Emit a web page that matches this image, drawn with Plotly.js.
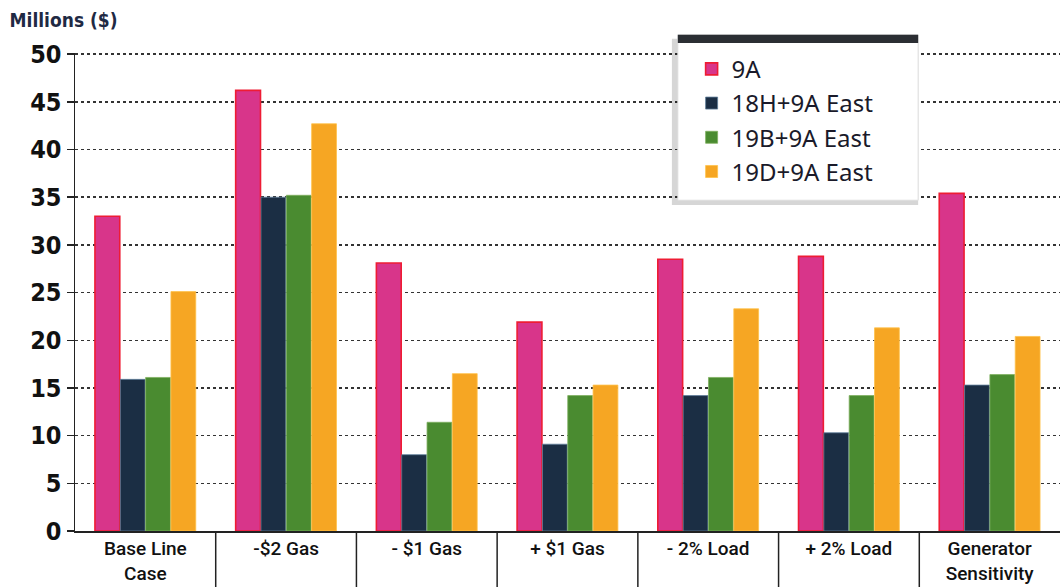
<!DOCTYPE html>
<html>
<head>
<meta charset="utf-8">
<script src="https://cdn.plot.ly/plotly-3.0.1.min.js"></script>
<style>html,body{margin:0;padding:0;background:#fff;}#chart{width:1060px;height:587px;}</style>
</head>
<body>
<div id="chart"></div>
<script>
const categories = ["Base Line<br>Case", "-$2 Gas", "- $1 Gas", "+ $1 Gas", "- 2% Load", "+ 2% Load", "Generator<br>Sensitivity"];
const seriesNames = ["9A", "18H+9A East", "19B+9A East", "19D+9A East"];
const s9A      = [33.0, 46.2, 28.1, 21.9, 28.5, 28.8, 35.4];
const s18H     = [15.9, 35.0, 8.0, 9.1, 14.2, 10.3, 15.3];
const s19B     = [16.1, 35.2, 11.4, 14.2, 16.1, 14.2, 16.4];
const s19D     = [25.1, 42.7, 16.5, 15.3, 23.3, 21.3, 20.4];
const yTicks   = [0, 5, 10, 15, 20, 25, 30, 35, 40, 45, 50];

const colors     = ["#d8358a", "#1b2e44", "#4a8b30", "#f6a623"];
const lineColors = ["#ee1c34", "#5f7d9a", "#7fb060", "#ffc24a"];
const values = [s9A, s18H, s19B, s19D];

const traces = values.map((v, i) => ({
  type: "bar",
  name: seriesNames[i],
  legendgroup: "g" + i,
  x: categories,
  y: v,
  marker: {color: colors[i], line: {color: lineColors[i], width: i === 0 ? 1.6 : 0.8}},
  hoverinfo: "skip"
}));

const shapes = [];
// category dividers below the axis
for (let i = 0; i < categories.length - 1; i++) {
  shapes.push({type: "line", xref: "x", yref: "paper", x0: i + 0.5, x1: i + 0.5, y0: 0, y1: -0.125,
    line: {color: "#222", width: 1.5}});
}
// legend box decoration
shapes.push({type: "rect", xref: "paper", yref: "paper", layer: "above",
  x0: 0.606, x1: 0.856, y0: 0.682, y1: 1.03, fillcolor: "rgba(0,0,0,0.16)", line: {width: 0}});
shapes.push({type: "rect", xref: "paper", yref: "paper", layer: "above",
  x0: 0.612, x1: 0.856, y0: 0.692, y1: 1.038, fillcolor: "#ffffff", line: {color: "#dddddd", width: 1}});
shapes.push({type: "rect", xref: "paper", yref: "paper", layer: "above",
  x0: 0.612, x1: 0.856, y0: 1.021, y1: 1.038, fillcolor: "#2b2e33", line: {width: 0}});

const layout = {
  width: 1060, height: 587,
  margin: {l: 75, r: 0, t: 53, b: 56},
  paper_bgcolor: "#ffffff",
  plot_bgcolor: "#ffffff",
  barmode: "group",
  bargap: 0.28,
  bargroupgap: 0.02,
  title: {
    text: "Millions ($)",
    x: 0.009, xanchor: "left", y: 0.966, yanchor: "middle",
    font: {family: "'DejaVu Sans Condensed', 'Liberation Sans', sans-serif", size: 19, color: "#1f2a44", weight: 700}
  },
  xaxis: {
    type: "category",
    range: [-0.5, categories.length - 0.5],
    showline: true, linecolor: "#222", linewidth: 1.5,
    ticks: "", showgrid: false, zeroline: false,
    tickfont: {family: "Roboto, 'Liberation Sans', sans-serif", size: 19, color: "#111", weight: 500},
    fixedrange: true
  },
  yaxis: {
    range: [0, 50.12],
    tickvals: yTicks,
    ticktext: yTicks.map(String),
    showline: true, linecolor: "#222", linewidth: 1.5,
    ticks: "outside", ticklen: 7, tickcolor: "#222", tickwidth: 1.5,
    showgrid: true, gridcolor: "#333", gridwidth: 1.5, griddash: "dot",
    zeroline: false,
    tickfont: {family: "'DejaVu Sans Condensed', 'Liberation Sans Narrow', sans-serif", size: 25, color: "#111", weight: 700},
    fixedrange: true
  },
  showlegend: true,
  legend: {
    x: 0.626, xanchor: "left",
    y: 1.013, yanchor: "top",
    bgcolor: "rgba(0,0,0,0)",
    borderwidth: 0,
    tracegroupgap: 2,
    traceorder: "normal",
    font: {family: "'Noto Sans', 'Open Sans', sans-serif", size: 24, color: "#1a1a2a"}
  },
  shapes: shapes
};

Plotly.newPlot("chart", traces, layout, {displayModeBar: false, staticPlot: true});
</script>
</body>
</html>
